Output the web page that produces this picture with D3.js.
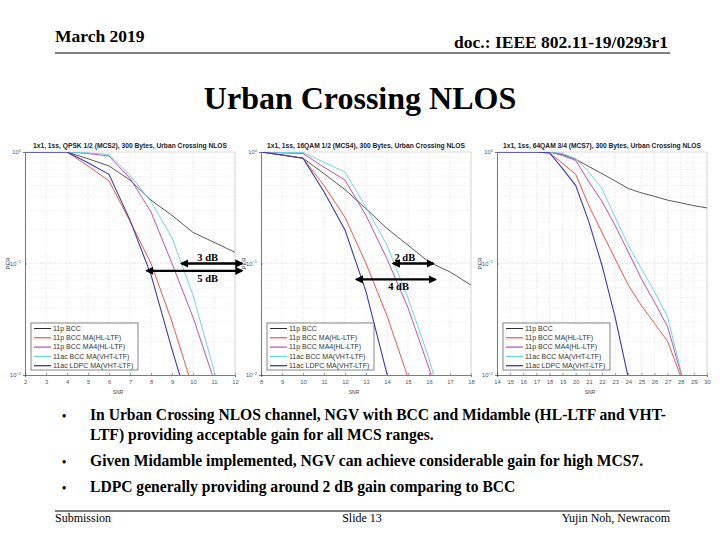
<!DOCTYPE html>
<html><head><meta charset="utf-8">
<script src="https://cdn.jsdelivr.net/npm/d3@7"></script>
<style>body{margin:0;background:#fff}</style>
</head><body>
<svg id="s" width="720" height="540"></svg>
<script>
// ---------- data ----------
const seriesNames = ["11p BCC","11p BCC MA(HL-LTF)","11p BCC MA4(HL-LTF)","11ac BCC MA(VHT-LTF)","11ac LDPC MA(VHT-LTF)"];
const chartTitles = [
  "1x1, 1ss, QPSK 1/2 (MCS2), 300 Bytes, Urban Crossing NLOS",
  "1x1, 1ss, 16QAM 1/2 (MCS4), 300 Bytes, Urban Crossing NLOS",
  "1x1, 1ss, 64QAM 3/4 (MCS7), 300 Bytes, Urban Crossing NLOS"
];
const yTickExp = [0, -1, -2];

const snrMCS2 = [2,3,4,5,6,7,8,9,10,11,12];
const perMCS2_11pBCC   = [1,1,1,0.87,0.75,0.56,0.37,0.27,0.19,0.155,0.126];
const perMCS2_11pMA    = [1,1,1,0.75,0.55,0.24,0.1,0.03,0.0075,null,null];
const perMCS2_11pMA4   = [1,1,1,0.97,0.92,0.58,0.29,0.10,0.033,0.009,null];
const perMCS2_11acBCC  = [1,1,1,0.98,0.95,0.62,0.36,0.17,0.052,0.011,0.002];
const perMCS2_11acLDPC = [1,1,1,0.8,0.63,0.245,0.079,0.017,0.004,null,null];

const snrMCS4 = [8,9,10,11,12,13,14,15,16,17,18];
const perMCS4_11pBCC   = [1,0.94,0.88,0.64,0.46,0.31,0.206,0.146,0.103,0.084,0.064];
const perMCS4_11pMA    = [1,0.94,0.88,0.5,0.26,0.1,0.034,0.0095,null,null,null];
const perMCS4_11pMA4   = [1,0.98,0.97,0.73,0.56,0.27,0.11,0.04,0.0115,0.003,null];
const perMCS4_11acBCC  = [1,0.99,0.99,0.81,0.66,0.32,0.146,0.049,0.014,0.003,null];
const perMCS4_11acLDPC = [1,0.94,0.88,0.44,0.2,0.056,0.0102,0.002,null,null,null];

const snrMCS7 = [14,15,16,17,18,19,20,21,22,23,24,25,26,27,28,29,30];
const perMCS7_11pBCC   = [1,1,1,1,1,0.95,0.86,0.74,0.64,0.55,0.47,0.43,0.40,0.37,0.35,0.33,0.315];
const perMCS7_11pMA    = [1,1,1,1,0.98,0.79,0.63,0.33,0.19,0.11,0.064,0.042,0.029,0.02,0.0097,null,null];
const perMCS7_11pMA4   = [1,1,1,1,1,0.93,0.84,0.54,0.36,0.22,0.127,0.073,0.045,0.027,0.0105,0.004,null];
const perMCS7_11acBCC  = [1,1,1,1,1,0.97,0.87,0.66,0.47,0.26,0.146,0.09,0.056,0.033,0.011,0.004,null];
const perMCS7_11acLDPC = [1,1,1,1,0.98,0.71,0.50,0.236,0.096,0.033,0.0095,null,null,null,null,null,null];

// gain annotations
const gapChart = [0, 0, 1, 1];
const gapLabel = ["3 dB", "5 dB", "2 dB", "4 dB"];
const gapFrom  = [9.45, 7.8, 14.3, 12.55];
const gapTo    = [12.33, 12.33, 16.2, 16.3];
const gapPER   = [0.1, 0.086, 0.1, 0.072];
const gapTextX = [10.7, 10.7, 14.85, 14.55];
const gapAbove = [true, false, true, false];

const bullets = [
  ["In Urban Crossing NLOS channel, NGV with BCC and Midamble (HL-LTF and VHT-", "LTF) providing acceptable gain for all MCS ranges."],
  ["Given Midamble implemented, NGV can achieve considerable gain for high MCS7."],
  ["LDPC generally providing around 2 dB gain comparing to BCC"]
];

// ---------- assembly ----------
const charts = [
  {snr: snrMCS2, per: [perMCS2_11pBCC, perMCS2_11pMA, perMCS2_11pMA4, perMCS2_11acBCC, perMCS2_11acLDPC]},
  {snr: snrMCS4, per: [perMCS4_11pBCC, perMCS4_11pMA, perMCS4_11pMA4, perMCS4_11acBCC, perMCS4_11acLDPC]},
  {snr: snrMCS7, per: [perMCS7_11pBCC, perMCS7_11pMA, perMCS7_11pMA4, perMCS7_11acBCC, perMCS7_11acLDPC]}
];
const colors = ["#303030", "#e8453c", "#b43cb4", "#5ed3df", "#3a3aa8"];
const widths = [0.8, 0.9, 0.9, 0.9, 1.1];
const plotLeft = [25, 261, 497];
const plotW = 210, plotTop = 152, plotBottom = 375;

const svg = d3.select("#s");
const serif = "'Liberation Serif','Times New Roman',serif";
const sans = "'Liberation Sans',Arial,sans-serif";

// header
svg.append("text").attr("x", 55).attr("y", 42).attr("font-family", serif).attr("font-weight", "bold")
  .attr("font-size", 17.5).text("March 2019");
svg.append("text").attr("x", 668).attr("y", 48).attr("text-anchor", "end").attr("font-family", serif)
  .attr("font-weight", "bold").attr("font-size", 17.5).text("doc.: IEEE 802.11-19/0293r1");
svg.append("line").attr("x1", 55).attr("x2", 670).attr("y1", 53).attr("y2", 53).attr("stroke", "#000").attr("stroke-width", 1.2);
svg.append("text").attr("x", 360).attr("y", 109).attr("text-anchor", "middle").attr("font-family", serif)
  .attr("font-weight", "bold").attr("font-size", 32).text("Urban Crossing NLOS");

// defs
const defs = svg.append("defs");
defs.append("marker").attr("id", "ah").attr("viewBox", "0 0 10 10").attr("refX", 8).attr("refY", 5)
  .attr("markerWidth", 3.6).attr("markerHeight", 3.6).attr("orient", "auto-start-reverse")
  .append("path").attr("d", "M0,0 L10,5 L0,10 z").attr("fill", "#000");

const y = d3.scaleLog().domain([0.01, 1]).range([plotBottom, plotTop]);
const minorVals = [];
[0.01, 0.1].forEach(b => { for (let k = 2; k <= 9; k++) minorVals.push(b * k); });

charts.forEach((c, ci) => {
  const x = d3.scaleLinear().domain(d3.extent(c.snr)).range([plotLeft[ci], plotLeft[ci] + plotW]);
  const g = svg.append("g");
  const cid = "clip" + ci;
  defs.append("clipPath").attr("id", cid).append("rect")
    .attr("x", plotLeft[ci]).attr("y", plotTop).attr("width", plotW).attr("height", plotBottom - plotTop);

  // grid
  g.selectAll(".gx").data(c.snr).join("line")
    .attr("x1", d => x(d)).attr("x2", d => x(d)).attr("y1", plotTop).attr("y2", plotBottom)
    .attr("stroke", "#d0d0d0").attr("stroke-width", 0.6).attr("stroke-dasharray", "1,1.5");
  g.selectAll(".gy").data(minorVals).join("line")
    .attr("x1", plotLeft[ci]).attr("x2", plotLeft[ci] + plotW).attr("y1", d => y(d)).attr("y2", d => y(d))
    .attr("stroke", "#dcdcdc").attr("stroke-width", 0.6).attr("stroke-dasharray", "1,1.5");
  g.selectAll(".gy2").data([0.1]).join("line")
    .attr("x1", plotLeft[ci]).attr("x2", plotLeft[ci] + plotW).attr("y1", d => y(d)).attr("y2", d => y(d))
    .attr("stroke", "#c8c8c8").attr("stroke-width", 0.6).attr("stroke-dasharray", "1,1.5");

  // axes
  const xAxis = d3.axisBottom(x).tickValues(c.snr).tickSize(2).tickFormat(d3.format("d"));
  const xg = g.append("g").attr("transform", `translate(0,${plotBottom})`).call(xAxis);
  xg.select(".domain").attr("stroke", "#444").attr("stroke-width", 0.7);
  xg.selectAll(".tick line").attr("stroke", "#444").attr("stroke-width", 0.5).attr("y2", -2);
  xg.selectAll(".tick text").attr("font-family", sans).attr("font-size", 5.8).attr("fill", "#555").attr("y", 5);

  const ya = d3.axisLeft(y).tickValues([1, 0.1, 0.01]).tickSize(2).tickFormat("");
  const yg = g.append("g").attr("transform", `translate(${plotLeft[ci]},0)`).call(ya);
  yg.select(".domain").attr("stroke", "#444").attr("stroke-width", 0.7);
  yg.selectAll(".tick line").attr("stroke", "#444").attr("stroke-width", 0.5).attr("x2", 2);
  yTickExp.forEach(e => {
    const t = g.append("text").attr("x", plotLeft[ci] - 4).attr("y", y(Math.pow(10, e)) + 2)
      .attr("text-anchor", "end").attr("font-family", sans).attr("font-size", 5.8).attr("fill", "#555");
    t.append("tspan").text("10");
    t.append("tspan").attr("dy", -2.5).attr("font-size", 4).text(String(e).replace("-", "\u2212"));
  });
  g.append("line").attr("x1", plotLeft[ci]).attr("x2", plotLeft[ci] + plotW).attr("y1", plotTop).attr("y2", plotTop)
    .attr("stroke", "#bbb").attr("stroke-width", 0.5);
  g.append("line").attr("x1", plotLeft[ci] + plotW).attr("x2", plotLeft[ci] + plotW).attr("y1", plotTop).attr("y2", plotBottom)
    .attr("stroke", "#bbb").attr("stroke-width", 0.5);

  // title & labels
  g.append("text").attr("x", plotLeft[ci] + plotW / 2).attr("y", 148).attr("text-anchor", "middle")
    .attr("font-family", sans).attr("font-weight", "bold").attr("font-size", 6.7).attr("fill", "#222").text(chartTitles[ci]);
  g.append("text").attr("transform", `translate(${plotLeft[ci] - 15},${(plotTop + plotBottom) / 2}) rotate(-90)`)
    .attr("text-anchor", "middle").attr("font-family", sans).attr("font-size", 5.8).attr("fill", "#444").text("PER");
  g.append("text").attr("x", plotLeft[ci] + plotW / 2 - 12).attr("y", 394).attr("text-anchor", "middle")
    .attr("font-family", sans).attr("font-size", 5).attr("fill", "#444").text("SNR");

  // lines
  const line = d3.line().defined(d => d[1] != null).x(d => x(d[0])).y(d => y(d[1]));
  const lg = g.append("g").attr("clip-path", `url(#${cid})`);
  c.per.forEach((p, si) => {
    lg.append("path").datum(c.snr.map((s, i) => [s, p[i]])).attr("d", line)
      .attr("fill", "none").attr("stroke", colors[si]).attr("stroke-width", widths[si]);
  });

  // legend
  const lx = plotLeft[ci] + 6, ly = 323;
  const leg = g.append("g");
  leg.append("rect").attr("x", lx).attr("y", ly).attr("width", 107).attr("height", 47)
    .attr("fill", "#fff").attr("stroke", "#333").attr("stroke-width", 0.6);
  seriesNames.forEach((n, si) => {
    const yy = ly + 5.5 + si * 9.3;
    leg.append("line").attr("x1", lx + 3).attr("x2", lx + 20).attr("y1", yy).attr("y2", yy)
      .attr("stroke", colors[si]).attr("stroke-width", widths[si] + 0.2);
    leg.append("text").attr("x", lx + 22).attr("y", yy + 2.3).attr("font-family", sans).attr("font-size", 7)
      .attr("fill", "#333").text(n);
  });

  // gain annotations
  gapChart.forEach((gc, gi) => {
    if (gc !== ci) return;
    g.append("line").attr("x1", x(gapFrom[gi])).attr("x2", x(gapTo[gi])).attr("y1", y(gapPER[gi])).attr("y2", y(gapPER[gi]))
      .attr("stroke", "#000").attr("stroke-width", 2.3)
      .attr("marker-start", "url(#ah)").attr("marker-end", "url(#ah)");
    g.append("text").attr("x", x(gapTextX[gi])).attr("y", y(gapPER[gi]) + (gapAbove[gi] ? -2.5 : 11))
      .attr("text-anchor", "middle").attr("font-family", serif).attr("font-weight", "bold").attr("font-size", 10.5)
      .attr("fill", "#000").text(gapLabel[gi]);
  });
});

// bullets
const bulletY = [420, 466, 492];
bullets.forEach((b, bi) => {
  svg.append("text").attr("x", 62).attr("y", bulletY[bi]).attr("font-family", serif).attr("font-weight", "bold")
    .attr("font-size", 12).text("\u2022");
  b.forEach((ln, li) => {
    svg.append("text").attr("transform", `translate(90,${bulletY[bi] + li * 20}) scale(0.975,1)`).attr("font-family", serif)
      .attr("font-weight", "bold").attr("font-size", 16).text(ln);
  });
});

// footer
svg.append("line").attr("x1", 55).attr("x2", 670).attr("y1", 511).attr("y2", 511).attr("stroke", "#000").attr("stroke-width", 1);
svg.append("text").attr("x", 55).attr("y", 522).attr("font-family", serif).attr("font-size", 12).text("Submission");
svg.append("text").attr("x", 362).attr("y", 522).attr("text-anchor", "middle").attr("font-family", serif).attr("font-size", 12).text("Slide 13");
svg.append("text").attr("x", 670).attr("y", 522).attr("text-anchor", "end").attr("font-family", serif).attr("font-size", 12).text("Yujin Noh, Newracom");
</script>
</body></html>
